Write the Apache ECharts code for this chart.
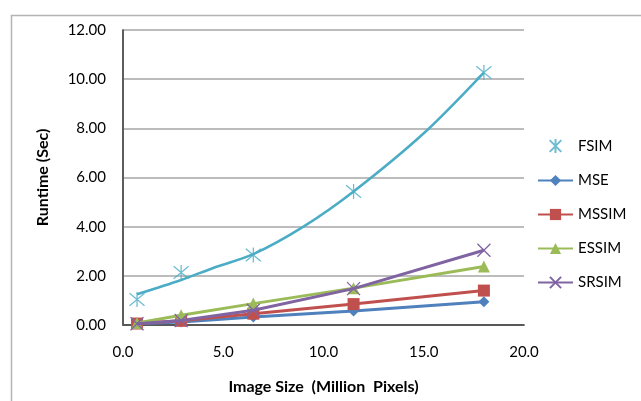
<!DOCTYPE html>
<html>
<head>
<meta charset="utf-8">
<script src="https://cdn.jsdelivr.net/npm/echarts@6/dist/echarts.min.js"></script>
<style>html,body{margin:0;padding:0;background:#fff}#c{width:641px;height:401px}</style>
</head>
<body>
<div id="c"></div>
<script>
var sizes = [0.7, 2.9, 6.5, 11.5, 18.0];
var fsim = [1.04, 2.14, 2.85, 5.43, 10.27];
var trendX = [0.7, 2.9, 4.5, 6.5, 9.0, 11.5, 15.0, 18.0];
var trendY = [1.25, 1.83, 2.32, 2.88, 4.0, 5.43, 7.8, 10.27];
var mse = [0.05, 0.12, 0.33, 0.57, 0.95];
var mssim = [0.06, 0.17, 0.46, 0.85, 1.40];
var essim = [0.08, 0.40, 0.87, 1.50, 2.38];
var srsim = [0.05, 0.18, 0.60, 1.48, 3.04];
var legendNames = ['FSIM', 'MSE', 'MSSIM', 'ESSIM', 'SRSIM'];
var xTitle = 'Image Size  (Million  Pixels)';
var yTitle = 'Runtime (Sec)';

function pairs(xs, ys) { return xs.map(function (x, i) { return [x, ys[i]]; }); }

var FONT = 'Lato, "Open Sans", sans-serif';
var chart = echarts.init(document.getElementById('c'), null, {renderer: 'canvas'});
var starPath = 'path://M0,0L10,10M10,0L0,10M5,-1L5,11';
var xPath = 'path://M0,0L10,10M10,0L0,10';

chart.setOption({
  animation: false,
  backgroundColor: '#fff',
  textStyle: {fontFamily: FONT},
  graphic: [{
    type: 'rect', left: 9, top: 13, shape: {width: 800, height: 500},
    style: {fill: 'none', stroke: '#b4b4b4', lineWidth: 1.5}, silent: true, z: -1
  }],
  grid: {left: 123, right: 117, top: 30, bottom: 76, containLabel: false},
  legend: {
    orient: 'vertical', left: 532, top: 133, itemWidth: 35, itemHeight: 14, itemGap: 19,
    data: legendNames,
    textStyle: {fontFamily: FONT, fontSize: 15, color: '#000'}
  },
  xAxis: [{
    type: 'value', min: 0, max: 20, interval: 5, position: 'bottom',
    name: xTitle, nameLocation: 'middle', nameGap: 54,
    nameTextStyle: {fontFamily: FONT, fontWeight: 'bold', fontSize: 16, color: '#000'},
    axisLine: {show: true, lineStyle: {color: '#9a9a9a', width: 1.5}},
    axisTick: {show: false}, splitLine: {show: false},
    axisLabel: {formatter: function (v) { return v.toFixed(1); }, fontSize: 15, color: '#000', margin: 20}
  }, {
    type: 'value', min: 0, max: 20, interval: 5, position: 'top',
    axisLine: {show: true, lineStyle: {color: '#404040', width: 1.5}},
    axisTick: {show: false}, axisLabel: {show: false}, splitLine: {show: false}
  }],
  yAxis: [{
    type: 'value', min: 0, max: 12, interval: 2,
    name: yTitle, nameLocation: 'middle', nameGap: 72, nameRotate: 90,
    nameTextStyle: {fontFamily: FONT, fontWeight: 'bold', fontSize: 16, color: '#000'},
    axisLine: {show: true, lineStyle: {color: '#9a9a9a', width: 1.5}},
    axisTick: {show: false},
    splitLine: {show: true, lineStyle: {color: '#a6a6a6', width: 1.5}},
    axisLabel: {formatter: function (v) { return v.toFixed(2); }, fontSize: 15, color: '#000', margin: 17}
  }, {
    type: 'value', min: 0, max: 12, interval: 2, position: 'right',
    axisLine: {show: true, lineStyle: {color: '#404040', width: 1.5}},
    axisTick: {show: false}, axisLabel: {show: false}, splitLine: {show: false}
  }],
  series: [
    {name: 'FSIM trend', type: 'line', data: pairs(trendX, trendY), smooth: 0.3, showSymbol: false,
     lineStyle: {color: '#4BACC6', width: 2.5}, itemStyle: {color: '#4BACC6'}, z: 2},
    {name: 'FSIM', type: 'scatter', data: pairs(sizes, fsim), symbol: starPath, symbolSize: 15,
     itemStyle: {color: 'rgba(0,0,0,0)', borderColor: '#4BACC6', borderWidth: 1.3}, z: 3},
    {name: 'MSE', type: 'line', data: pairs(sizes, mse), symbol: 'diamond', symbolSize: 11,
     lineStyle: {color: '#4F81BD', width: 3}, itemStyle: {color: '#4F81BD'}, z: 3},
    {name: 'MSSIM', type: 'line', data: pairs(sizes, mssim), symbol: 'rect', symbolSize: 12,
     lineStyle: {color: '#C0504D', width: 3}, itemStyle: {color: '#C0504D'}, z: 4},
    {name: 'ESSIM', type: 'line', data: pairs(sizes, essim), symbol: 'triangle', symbolSize: 12,
     lineStyle: {color: '#9BBB59', width: 3}, itemStyle: {color: '#9BBB59'}, z: 5},
    {name: 'SRSIM', type: 'line', data: pairs(sizes, srsim), symbol: xPath, symbolSize: 13,
     lineStyle: {color: '#8064A2', width: 3}, itemStyle: {color: 'rgba(0,0,0,0)', borderColor: '#8064A2', borderWidth: 1.3}, z: 6}
  ]
});
</script>
</body>
</html>
